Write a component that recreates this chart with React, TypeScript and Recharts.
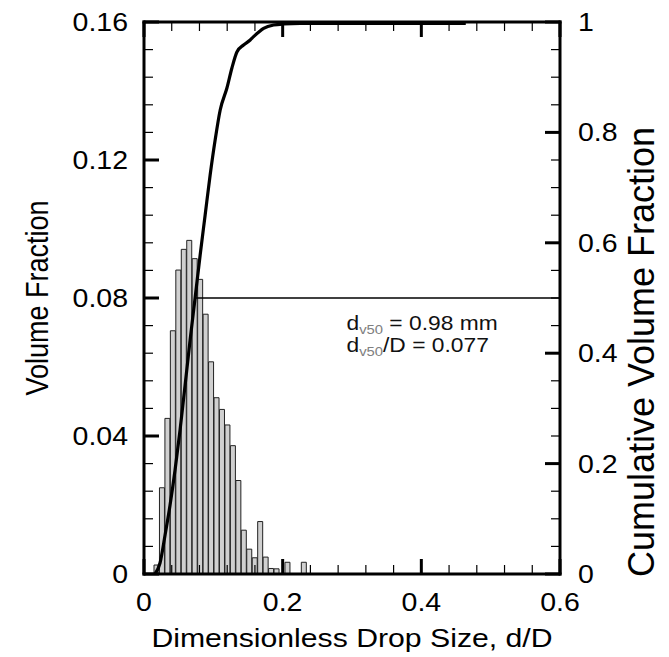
import React from 'react';
import { ComposedChart, Bar, Line, XAxis, YAxis, ReferenceLine, ReferenceDot } from 'recharts';

// Histogram bins: centre of each bin in d/D, and volume fraction of the bin
const BIN_CENTERS = [
  0.01836, 0.02623, 0.0341, 0.04197, 0.04984, 0.05771, 0.06558, 0.07345, 0.08132, 0.08919,
  0.09706, 0.10493, 0.1128, 0.12067, 0.12854, 0.13641, 0.14428, 0.15215, 0.16002, 0.16789,
  0.17576, 0.18363, 0.1915, 0.19937, 0.20724, 0.21511, 0.22298, 0.23085,
];
const VOLUME_FRACTION = [
  0.0026, 0.025, 0.0451, 0.0705, 0.0881, 0.0941, 0.0967, 0.0914, 0.0854, 0.0753,
  0.0615, 0.0511, 0.0477, 0.0432, 0.0372, 0.0271, 0.0127, 0.0072, 0.0047, 0.0152,
  0.0049, 0.0016, 0.0015, 0, 0.0034, 0, 0, 0.0034,
];

// Cumulative volume fraction curve
const CURVE_D = [
  0.0159, 0.0231, 0.0304, 0.0376, 0.0448, 0.052, 0.0593, 0.0665, 0.0737, 0.081,
  0.0882, 0.0954, 0.1026, 0.1099, 0.1196, 0.1268, 0.134, 0.1436, 0.1532, 0.158,
  0.1725, 0.1869, 0.2014, 0.2255, 0.4641,
];
const CURVE_CUM = [
  0, 0.0199, 0.0707, 0.125, 0.1884, 0.2609, 0.3424, 0.4239, 0.5, 0.5779,
  0.6504, 0.7228, 0.7862, 0.8406, 0.8804, 0.9167, 0.9457, 0.9583, 0.9674, 0.9734,
  0.9886, 0.9946, 0.9964, 0.9973, 0.9973,
];

// Axis ticks
const X_TICKS = [0, 0.04, 0.08, 0.12, 0.16, 0.2, 0.24, 0.28, 0.32, 0.36, 0.4, 0.44, 0.48, 0.52, 0.56, 0.6];
const X_MAJOR = [0, 0.2, 0.4, 0.6];
const X_LABELS = ['0', '0.2', '0.4', '0.6'];
const LEFT_TICKS = [
  0, 0.008, 0.016, 0.024, 0.032, 0.04, 0.048, 0.056, 0.064, 0.072, 0.08,
  0.088, 0.096, 0.104, 0.112, 0.12, 0.128, 0.136, 0.144, 0.152, 0.16,
];
const LEFT_MAJOR = [0, 0.04, 0.08, 0.12, 0.16];
const LEFT_LABELS = ['0', '0.04', '0.08', '0.12', '0.16'];
const RIGHT_TICKS = [
  0, 0.05, 0.1, 0.15, 0.2, 0.25, 0.3, 0.35, 0.4, 0.45, 0.5,
  0.55, 0.6, 0.65, 0.7, 0.75, 0.8, 0.85, 0.9, 0.95, 1,
];
const RIGHT_MAJOR = [0, 0.2, 0.4, 0.6, 0.8, 1];
const RIGHT_LABELS = ['0', '0.2', '0.4', '0.6', '0.8', '1'];

const MEDIAN_CUM = 0.5;
const MEDIAN_D = 0.0737;

const binData = BIN_CENTERS.map((x, i) => ({ x, v: VOLUME_FRACTION[i] }));
const curveData = CURVE_D.map((d, i) => ({ d, c: CURVE_CUM[i] }));

const FONT = '"Liberation Sans", Arial, Helvetica, sans-serif';
const SX = 1.14;

const majorIndex = (list: number[], v: number) => list.findIndex((m) => Math.abs(m - v) < 1e-9);

const BottomTick = (props: any) => {
  const { x, y, payload } = props;
  const mi = majorIndex(X_MAJOR, payload.value);
  const major = mi >= 0;
  return (
    <g>
      <line x1={x} x2={x} y1={y} y2={y - (major ? 15 : 9)} stroke="#000" strokeWidth={major ? 3 : 1.2} />
      {major && (
        <text transform={`translate(${x} ${y + 37}) scale(${SX} 1)`} textAnchor="middle" fontSize={25} fontFamily={FONT} fill="#000">
          {X_LABELS[mi]}
        </text>
      )}
    </g>
  );
};

const TopTick = (props: any) => {
  const { x, y, payload } = props;
  const major = majorIndex(X_MAJOR, payload.value) >= 0;
  return <line x1={x} x2={x} y1={y} y2={y + (major ? 15 : 9)} stroke="#000" strokeWidth={major ? 3 : 1.2} />;
};

const LeftTick = (props: any) => {
  const { x, y, payload } = props;
  const mi = majorIndex(LEFT_MAJOR, payload.value);
  const major = mi >= 0;
  return (
    <g>
      <line x1={x} x2={x + (major ? 15 : 9)} y1={y} y2={y} stroke="#000" strokeWidth={major ? 3 : 1.2} />
      {major && (
        <text transform={`translate(${x - 16} ${y + 9}) scale(${SX} 1)`} textAnchor="end" fontSize={25} fontFamily={FONT} fill="#000">
          {LEFT_LABELS[mi]}
        </text>
      )}
    </g>
  );
};

const RightTick = (props: any) => {
  const { x, y, payload } = props;
  const mi = majorIndex(RIGHT_MAJOR, payload.value);
  const major = mi >= 0;
  return (
    <g>
      <line x1={x} x2={x - (major ? 15 : 9)} y1={y} y2={y} stroke="#000" strokeWidth={major ? 3 : 1.2} />
      {major && (
        <text transform={`translate(${x + 18} ${y + 9}) scale(${SX} 1)`} textAnchor="start" fontSize={25} fontFamily={FONT} fill="#000">
          {RIGHT_LABELS[mi]}
        </text>
      )}
    </g>
  );
};

const LeftTitle = (props: any) => {
  const vb = props.viewBox || { x: 0, y: 22, width: 144, height: 552 };
  const cx = vb.x + 37;
  const cy = vb.y + vb.height / 2;
  return (
    <text transform={`translate(${cx} ${cy}) rotate(-90) scale(1 ${SX})`} textAnchor="middle" dominantBaseline="central" fontSize={27} fontFamily={FONT} fill="#000">
      Volume Fraction
    </text>
  );
};

const RightTitle = (props: any) => {
  const vb = props.viewBox || { x: 560, y: 22, width: 109, height: 552 };
  const cx = vb.x + 81;
  const cy = vb.y + 330;
  return (
    <text transform={`translate(${cx} ${cy}) rotate(-90)`} textAnchor="middle" dominantBaseline="central" fontSize={36} fontFamily={FONT} fill="#000">
      Cumulative Volume Fraction
    </text>
  );
};

const BottomTitle = (props: any) => {
  const vb = props.viewBox || { x: 144, y: 574, width: 416, height: 83 };
  const cx = vb.x + vb.width / 2;
  const cy = vb.y + 73;
  return (
    <text transform={`translate(${cx} ${cy}) scale(${SX} 1)`} textAnchor="middle" fontSize={26.5} fontFamily={FONT} fill="#000">
      Dimensionless Drop Size, d/D
    </text>
  );
};

const Annotation = (props: any) => {
  const vb = props.viewBox || { x: 0, y: 0 };
  const x = vb.x + (vb.width || 0) / 2;
  const y = vb.y + (vb.height || 0) / 2;
  return (
    <g fontFamily={FONT}>
      <text transform={`translate(${x} ${y}) scale(${SX} 1)`} fontSize={20} fill="#111">
        d<tspan fontSize={13} dy={4} fill="#808080">v50</tspan>
        <tspan dy={-4}>{'\u00a0= 0.98 mm'}</tspan>
      </text>
      <text transform={`translate(${x} ${y + 21.5}) scale(${SX} 1)`} fontSize={20} fill="#111">
        d<tspan fontSize={13} dy={4} fill="#808080">v50</tspan>
        <tspan dy={-4}>{'/D = 0.077'}</tspan>
      </text>
    </g>
  );
};

const axisLine = { stroke: '#000', strokeWidth: 3, strokeLinecap: 'square' as const };

export default function App() {
  return (
    <div style={{ position: 'absolute', left: 0, top: 0, background: '#fff' }}>
      <ComposedChart
        width={669}
        height={657}
        data={binData}
        margin={{ top: 0, right: 0, bottom: 0, left: 0 }}
        barCategoryGap={0}
        barGap={0}
      >
        <XAxis
          xAxisId="bottom"
          type="number"
          dataKey="x"
          domain={[0, 0.6]}
          ticks={X_TICKS}
          interval={0}
          allowDataOverflow
          height={83}
          tickSize={0}
          tickMargin={0}
          tickLine={false}
          axisLine={axisLine}
          tick={<BottomTick />}
          label={<BottomTitle />}
        />
        <XAxis
          xAxisId="top"
          orientation="top"
          type="number"
          dataKey="d"
          domain={[0, 0.6]}
          ticks={X_TICKS}
          interval={0}
          allowDataOverflow
          height={22}
          tickSize={0}
          tickMargin={0}
          tickLine={false}
          axisLine={axisLine}
          tick={<TopTick />}
        />
        <YAxis
          yAxisId="left"
          type="number"
          domain={[0, 0.16]}
          ticks={LEFT_TICKS}
          interval={0}
          allowDataOverflow
          width={144}
          tickSize={0}
          tickMargin={0}
          tickLine={false}
          axisLine={axisLine}
          tick={<LeftTick />}
          label={<LeftTitle />}
        />
        <YAxis
          yAxisId="right"
          orientation="right"
          type="number"
          domain={[0, 1]}
          ticks={RIGHT_TICKS}
          interval={0}
          allowDataOverflow
          width={109}
          tickSize={0}
          tickMargin={0}
          tickLine={false}
          axisLine={axisLine}
          tick={<RightTick />}
          label={<RightTitle />}
        />
        <Bar
          xAxisId="bottom"
          yAxisId="left"
          dataKey="v"
          fill="#d0d0d0"
          stroke="#222"
          strokeWidth={1}
          isAnimationActive={false}
        />
        <ReferenceLine
          xAxisId="top"
          yAxisId="right"
          segment={[{ x: MEDIAN_D, y: MEDIAN_CUM }, { x: 0.6, y: MEDIAN_CUM }]}
          stroke="#000"
          strokeWidth={1.5}
        />
        <Line
          xAxisId="top"
          yAxisId="right"
          data={curveData}
          dataKey="c"
          type="monotone"
          stroke="#000"
          strokeWidth={3.2}
          dot={false}
          isAnimationActive={false}
        />
        <ReferenceDot
          xAxisId="top"
          yAxisId="right"
          x={0.292}
          y={0.442}
          r={0}
          fill="none"
          stroke="none"
          label={<Annotation />}
        />
      </ComposedChart>
    </div>
  );
}
